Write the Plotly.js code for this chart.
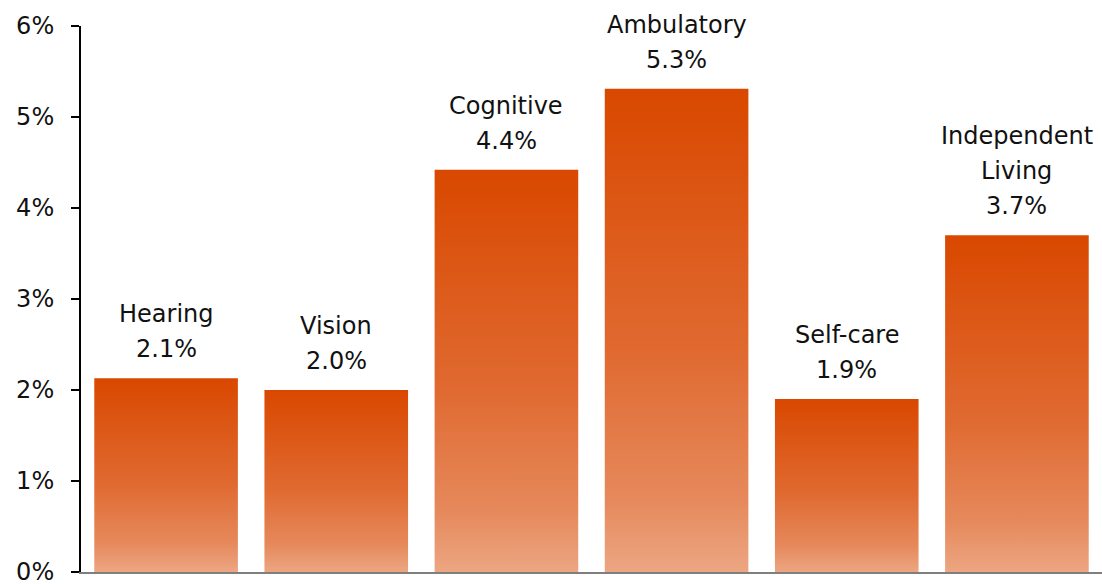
<!DOCTYPE html>
<html>
<head>
<meta charset="utf-8">
<script src="https://cdn.plot.ly/plotly-3.0.1.min.js"></script>
<style>html,body{margin:0;padding:0;background:#fff;}#chart{width:1102px;height:584px;}</style>
</head>
<body>
<div id="chart"></div>
<script>
const categories = ["Hearing", "Vision", "Cognitive", "Ambulatory", "Self-care", "Independent<br>Living"];
const values = [2.13, 2.0, 4.42, 5.31, 1.9, 3.7];
const valueLabels = ["2.1%", "2.0%", "4.4%", "5.3%", "1.9%", "3.7%"];
const tickVals = [0, 1, 2, 3, 4, 5, 6];
const tickText = ["0%", "1%", "2%", "3%", "4%", "5%", "6%"];

const FONT = "'DejaVu Sans', Lato, sans-serif";
const FSIZE = 24;
const half = 0.422;
const gradient = [[0, "#ECA682"], [0.15, "#E6895C"], [0.45, "#E06A31"], [1, "#D94800"]];

const traces = values.map((v, i) => ({
  type: "scatter",
  mode: "none",
  x: [i - half, i - half, i + half, i + half, i - half],
  y: [0, v, v, 0, 0],
  fill: "toself",
  fillgradient: { type: "vertical", colorscale: gradient, start: 0, stop: v },
  hoverinfo: "skip",
  showlegend: false
}));

const annotations = [];
values.forEach((v, i) => {
  const lines = categories[i].split("<br>").concat([valueLabels[i]]).reverse();
  lines.forEach((t, k) => {
    annotations.push({
      x: i, y: v, xref: "x", yref: "y",
      text: t, showarrow: false, yanchor: "middle",
      yshift: 29 + 35 * k,
      font: { family: FONT, size: FSIZE, color: "#111" }
    });
  });
});

const layout = {
  width: 1102, height: 584,
  margin: { l: 81, r: 0, t: 26, b: 12 },
  paper_bgcolor: "#fff", plot_bgcolor: "#fff",
  showlegend: false,
  xaxis: {
    range: [-0.5, 5.5], showgrid: false, zeroline: false,
    showticklabels: false, ticks: "",
    showline: true, linecolor: "#7f7f7f", linewidth: 2, fixedrange: true
  },
  yaxis: {
    range: [0, 6], tickvals: tickVals, ticktext: tickText,
    ticks: "outside", ticklen: 8, tickwidth: 2, tickcolor: "#000",
    showline: true, linecolor: "#000", linewidth: 2,
    showgrid: false, zeroline: false, ticklabelstandoff: 12,
    ticklabeloverflow: "allow",
    automargin: false,
    tickfont: { family: FONT, size: FSIZE, color: "#111" }, fixedrange: true
  },
  annotations: annotations
};

Plotly.newPlot("chart", traces, layout, { displayModeBar: false, staticPlot: true });
</script>
</body>
</html>
